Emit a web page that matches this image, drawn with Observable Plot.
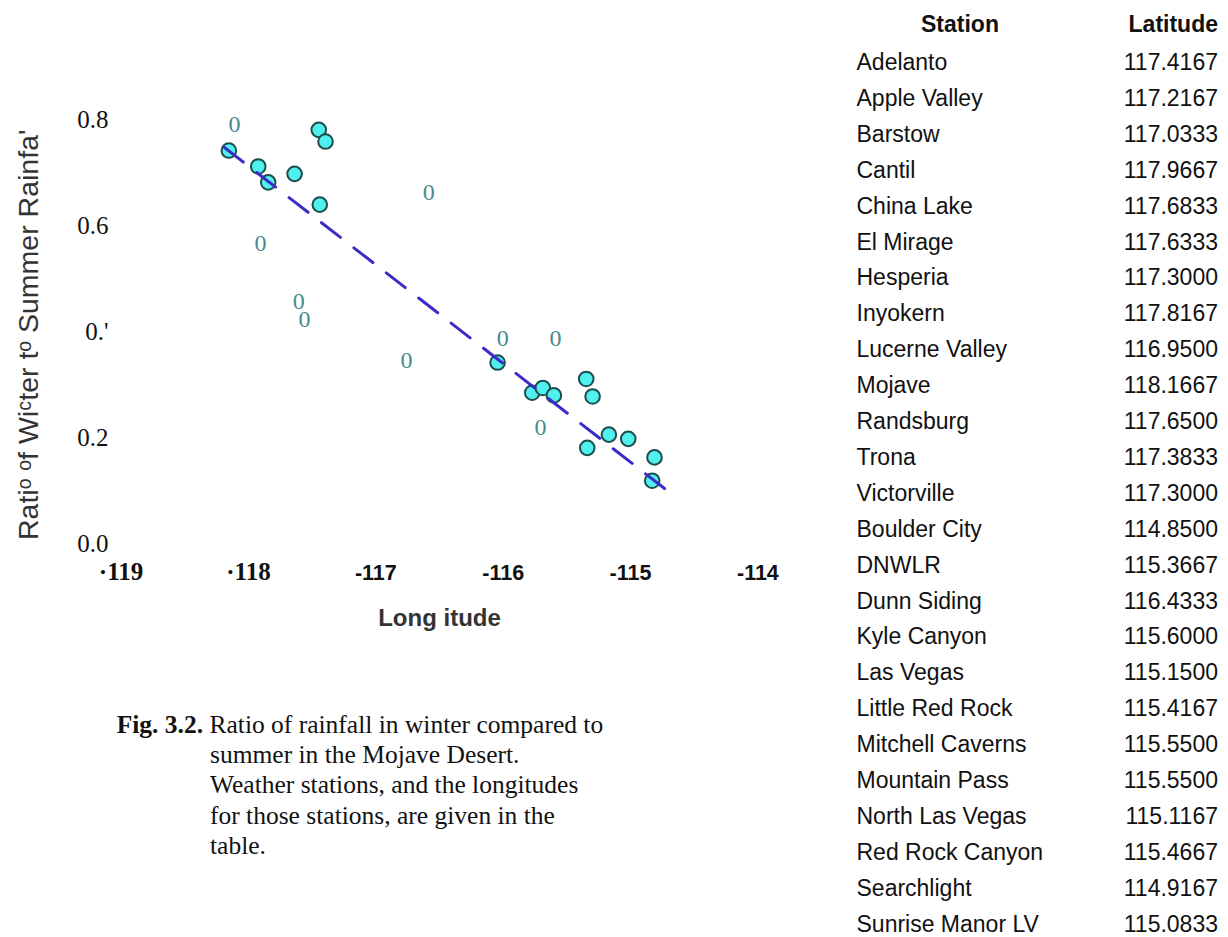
<!DOCTYPE html>
<html><head><meta charset="utf-8">
<script src="https://cdn.jsdelivr.net/npm/d3@7"></script>
<script src="https://cdn.jsdelivr.net/npm/@observablehq/plot@0.6"></script>
<style>
body{margin:0;background:#fff;}
#wrap{position:relative;width:1228px;height:937px;overflow:hidden;background:#fff;}
#chart{position:absolute;left:0;top:0;}
.cap{position:absolute;font-family:"Liberation Serif","Times New Roman",serif;font-size:25.5px;color:#111;white-space:nowrap;line-height:1;}
.tbl{position:absolute;font-family:"Liberation Sans",Arial,sans-serif;font-size:23px;color:#111;white-space:nowrap;line-height:1;}
</style></head><body>
<div id="wrap"><div id="chart"></div><div id="caption"></div><div id="table"></div></div>
<script>
// Filled station markers (longitude, winter/summer ratio)
const dotLon   = [-118.154,-117.923,-117.845,-117.638,-117.448,-117.395,-117.440,-116.044,-115.772,-115.689,-115.602,-115.348,-115.298,-115.340,-115.170,-115.018,-114.812,-114.830];
const dotRatio = [0.742,0.712,0.682,0.698,0.781,0.759,0.640,0.342,0.285,0.294,0.280,0.311,0.278,0.181,0.206,0.198,0.163,0.119];
// Open markers, rendered as "0" glyphs in the reference
const openLon   = [-118.110,-117.905,-117.605,-117.560,-116.759,-116.584,-116.003,-115.589,-115.707];
const openRatio = [0.792,0.567,0.458,0.423,0.346,0.663,0.387,0.387,0.220];
const openGlyph = "0";
// Fitted trend line endpoints
const trendLon   = [-118.19,-114.71];
const trendRatio = [0.748,0.100];
// Axes
const xTicks = [-119,-118,-117,-116,-115,-114];
const xTickLabels = ["·119","·118","-117","-116","-115","-114"];
const yTicks = [0,0.2,0.4,0.6,0.8];
const yTickLabels = ["0.0","0.2","0.'","0.6","0.8"];
const xTitle = "Long itude";
const yTitle = "Ratiᵒ ᵒf Wiᶜter tᵒ Summer Rainfa'";
// Caption
const captionLead = "Fig. 3.2.";
const captionLines = ["Ratio of rainfall in winter compared to","summer in the Mojave Desert.","Weather stations, and the longitudes","for those stations, are given in the","table."];
// Table
const tableHeaders = ["Station","Latitude"];
const stationNames = ["Adelanto","Apple Valley","Barstow","Cantil","China Lake","El Mirage","Hesperia","Inyokern","Lucerne Valley","Mojave","Randsburg","Trona","Victorville","Boulder City","DNWLR","Dunn Siding","Kyle Canyon","Las Vegas","Little Red Rock","Mitchell Caverns","Mountain Pass","North Las Vegas","Red Rock Canyon","Searchlight","Sunrise Manor LV"];
const stationLat = [117.4167,117.2167,117.0333,117.9667,117.6833,117.6333,117.3000,117.8167,116.9500,118.1667,117.6500,117.3833,117.3000,114.8500,115.3667,116.4333,115.6000,115.1500,115.4167,115.5500,115.5500,115.1167,115.4667,114.9167,115.0833];

const dots = dotLon.map((x,i)=>({x, y: dotRatio[i]}));
const opens = openLon.map((x,i)=>({x, y: openRatio[i]}));
const trend = trendLon.map((x,i)=>({x, y: trendRatio[i]}));
const xt = xTicks.map((v,i)=>({v, label: xTickLabels[i]}));
const yt = yTicks.map((v,i)=>({v, label: yTickLabels[i]}));
const serif = "'Liberation Serif','Times New Roman',serif";
const sans = "'Liberation Sans',Arial,sans-serif";

const W = 840, H = 660, mL = 120.6, mR = 82.6, mT = 119.3, mB = 116.7;
const chart = Plot.plot({
  width: W, height: H,
  marginLeft: mL, marginRight: mR, marginTop: mT, marginBottom: mB,
  x: {domain: [-119,-114], axis: null},
  y: {domain: [0,0.8], axis: null},
  style: {background: "transparent", overflow: "visible"},
  marks: [
    Plot.text(yt, {y: "v", text: "label", frameAnchor: "left", textAnchor: "end", dx: -12.6, fontFamily: serif, fontSize: 25, fill: "#111"}),
    Plot.text(xt.filter(d => d.label.startsWith("·")), {x: "v", text: "label", frameAnchor: "bottom", textAnchor: "middle", dy: 36, fontFamily: serif, fontWeight: "bold", fontSize: 25, fill: "#111"}),
    Plot.text(xt.filter(d => !d.label.startsWith("·")), {x: "v", text: "label", frameAnchor: "bottom", textAnchor: "middle", dy: 36, fontFamily: sans, fontWeight: "bold", fontSize: 21.5, fill: "#111"}),
    Plot.text([xTitle], {frameAnchor: "bottom", textAnchor: "middle", dy: 82, fontFamily: sans, fontWeight: "bold", fontSize: 24, fill: "#333"}),
    Plot.text([yTitle], {frameAnchor: "left", textAnchor: "middle", dx: -92, dy: 3, rotate: -90, fontFamily: sans, fontSize: 28.5, fill: "#333"}),
    Plot.text(opens, {x: "x", y: "y", text: () => openGlyph, fontFamily: serif, fontSize: 24, fill: "#4a8a8c"}),
    Plot.dot(dots, {x: "x", y: "y", r: 7.3, fill: "#4ff0ee", stroke: "#1d4d4d", strokeWidth: 2}),
    Plot.line(trend, {x: "x", y: "y", stroke: "#3b2cc8", strokeWidth: 3, strokeDasharray: "24,17"})
  ]
});
document.getElementById("chart").appendChild(chart);

// Caption
const cap = document.getElementById("caption");
const base = [733, 763, 793.5, 824, 854];
captionLines.forEach((t,i) => {
  const d = document.createElement("div");
  d.className = "cap";
  d.style.top = (base[i] - 21.4) + "px";
  if (i === 0) {
    d.style.left = "116.7px";
    const b = document.createElement("b");
    b.textContent = captionLead + " ";
    d.appendChild(b);
    d.appendChild(document.createTextNode(t));
  } else {
    d.style.left = "210px";
    d.textContent = t;
  }
  cap.appendChild(d);
});

// Table
const tb = document.getElementById("table");
function cell(text, top, opts) {
  const d = document.createElement("div");
  d.className = "tbl";
  d.textContent = text;
  d.style.top = top + "px";
  Object.assign(d.style, opts);
  tb.appendChild(d);
}
cell(tableHeaders[0], 24 - 11.3, {left: "960px", transform: "translateX(-50%)", fontWeight: "bold"});
cell(tableHeaders[1], 24 - 11.3, {right: (1228 - 1218) + "px", fontWeight: "bold"});
stationNames.forEach((n,i) => {
  const c = 62.3 + i * 35.9;
  cell(n, c - 11.3, {left: "856.5px"});
  cell(stationLat[i].toFixed(4), c - 11.3, {right: (1228 - 1218) + "px"});
});
</script>
</body></html>
